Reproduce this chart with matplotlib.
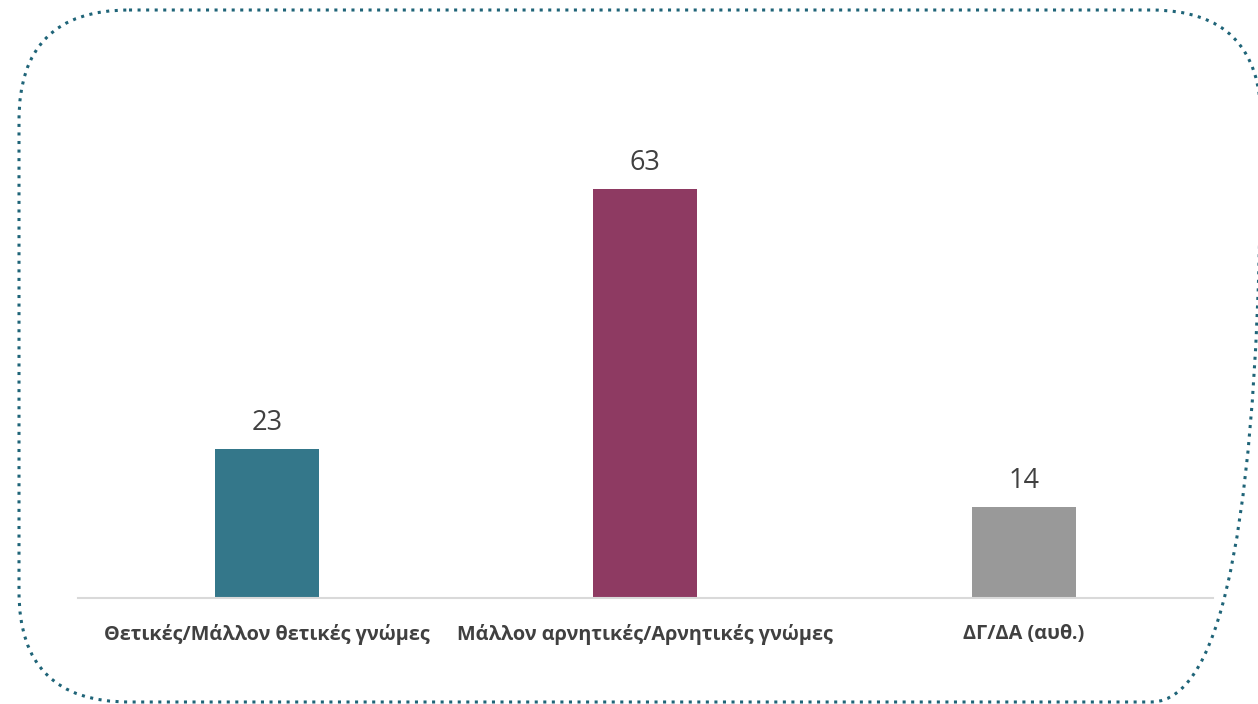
import matplotlib.pyplot as plt
from matplotlib.patches import FancyBboxPatch

categories = ['Θετικές/Μάλλον θετικές γνώμες',
              'Μάλλον αρνητικές/Αρνητικές γνώμες',
              'ΔΓ/ΔΑ (αυθ.)']
values = [23, 63, 14]
colors = ['#34778A', '#8E3A62', '#999999']

plt.rcParams['font.family'] = ['Open Sans', 'DejaVu Sans']

fig = plt.figure(figsize=(12.58, 7.04), dpi=100)

# rounded dotted frame, drawn in pixel coordinates
frame = fig.add_axes([0, 0, 1, 1])
frame.set_xlim(0, 1258)
frame.set_ylim(704, 0)
frame.axis('off')
frame.add_patch(FancyBboxPatch((19, 10), 1242, 692,
                               boxstyle='round,pad=0,rounding_size=110',
                               fill=False, edgecolor='#1F6478',
                               linestyle=(0, (1, 1.8)), linewidth=2.2,
                               clip_on=False))

ax = fig.add_axes([0.062, 0.1506, 0.902, 0.6455])
x = range(len(categories))
bars = ax.bar(x, values, width=0.275, color=colors)
ax.set_xlim(-0.5, 2.5)
ax.set_ylim(0, 70)
for b, v in zip(bars, values):
    ax.text(b.get_x() + b.get_width() / 2, v + 1.8, str(v),
            ha='center', va='bottom', fontsize=19.5, color='#404040')

ax.set_xticks(list(x))
ax.set_xticklabels(categories, fontsize=14.3, fontweight='bold', color='#404040')
ax.tick_params(axis='x', length=0, pad=19)
ax.set_yticks([])
for s in ['top', 'left', 'right']:
    ax.spines[s].set_visible(False)
ax.spines['bottom'].set_color('#D9D9D9')
ax.spines['bottom'].set_linewidth(1.5)
ax.patch.set_alpha(0)

plt.savefig('out.png', dpi=100)
